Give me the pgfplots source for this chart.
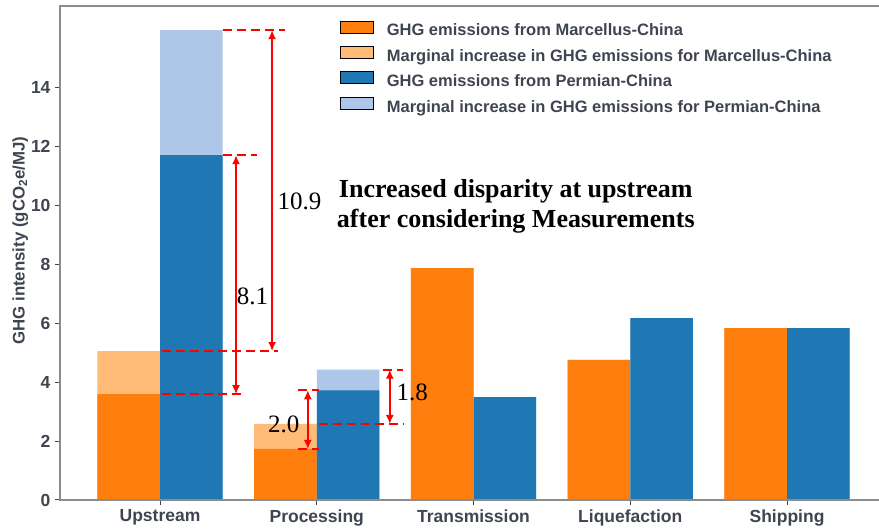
\documentclass[border=0pt]{standalone}
\usepackage{fontspec}
\setmainfont{Liberation Sans}
\newfontfamily\serif{Liberation Serif}
\usepackage{pgfplots}
\usepackage{pgfplotstable}
\pgfplotsset{compat=1.18}
\usetikzlibrary{arrows.meta}

\definecolor{mOrange}{HTML}{FF7F0E}
\definecolor{mOrangeL}{HTML}{FFBB78}
\definecolor{pBlue}{HTML}{1F77B4}
\definecolor{pBlueL}{HTML}{AEC7E8}
\definecolor{txt}{HTML}{3F4451}
\definecolor{spine}{HTML}{8C8C8C}
\definecolor{ann}{HTML}{FF0000}

% base = without measurements, total = after adding the marginal increase
\pgfplotstableread{
x base total
0 3.59 5.05
1 1.73 2.58
2 7.86 7.86
3 4.75 4.75
4 5.83 5.83
}\marcellus
\pgfplotstableread{
x base total
0 11.69 15.93
1 3.72 4.42
2 3.49 3.49
3 6.17 6.17
4 5.83 5.83
}\permian

\tikzset{
  dashref/.style={ann, line width=1.8pt, dash pattern=on 9pt off 5pt},
  gap/.style={ann, line width=1.6pt, {Latex[length=9pt,width=8pt]}-{Latex[length=9pt,width=8pt]}},
  numlab/.style={font=\serif\fontsize{25}{28}\selectfont, text=black, inner sep=0pt},
}

\begin{document}
\begin{tikzpicture}
\begin{axis}[
  name=ax,
  scale only axis, width=819pt, height=494pt,
  xmin=-0.638, xmax=4.587, ymin=0, ymax=16.75,
  clip=false,
  axis line style={draw=none},
  xtick={0,...,4},
  xticklabels={Upstream,Processing,Transmission,Liquefaction,Shipping},
  ytick={0,2,...,14},
  tick pos=left, tick align=outside,
  major tick length=5pt,
  tick style={color=txt, line width=1pt},
  ticklabel style={font=\fontsize{17.5}{20}\selectfont\bfseries, text=txt},
  /pgf/number format/assume math mode=true,
  yticklabel style={xshift=-1pt},
  xticklabel style={yshift=-1pt},
  ylabel={GHG intensity (gCO\textsubscript{2}e/MJ)},
  ylabel style={font=\fontsize{16.8}{20}\selectfont\bfseries, text=txt, at={(ticklabel cs:0.525)}, yshift=-4pt},
  legend style={at={(rel axis cs:0.3385,0.975)}, anchor=north west, draw=none, fill=none,
    font=\fontsize{16.5}{19}\selectfont\bfseries, text=txt,
    row sep=6.5pt, column sep=13pt,
    nodes={inner sep=0pt, text height=12pt, text depth=3.5pt}},
  legend cell align=left,
  legend image code/.code={\fill[#1] (0pt,-1pt) rectangle (33pt,11pt);},
]
% marginal increase drawn as full bars, base emissions on top of them
\addplot[ybar, bar width=0.4, bar shift=-0.2, fill=mOrangeL, draw=none, forget plot] table[x=x, y=total]{\marcellus};
\addplot[ybar, bar width=0.4, bar shift=-0.2, fill=mOrange, draw=none, forget plot] table[x=x, y=base]{\marcellus};
\addplot[ybar, bar width=0.4, bar shift=0.2, fill=pBlueL, draw=none, forget plot] table[x=x, y=total]{\permian};
\addplot[ybar, bar width=0.4, bar shift=0.2, fill=pBlue, draw=none, forget plot] table[x=x, y=base]{\permian};

\addlegendimage{fill=mOrange}
\addlegendentry{GHG emissions from Marcellus-China}
\addlegendimage{fill=mOrangeL}
\addlegendentry{Marginal increase in GHG emissions for Marcellus-China}
\addlegendimage{fill=pBlue}
\addlegendentry{GHG emissions from Permian-China}
\addlegendimage{fill=pBlueL}
\addlegendentry{Marginal increase in GHG emissions for Permian-China}

% spines: left, bottom, top
\draw[spine, line width=1.2pt] (rel axis cs:1,1) -- (rel axis cs:0,1) -- (rel axis cs:0,0) -- (rel axis cs:1,0);

% upstream gaps
\draw[dashref] (axis cs:0.40,15.93) -- (axis cs:0.80,15.93);
\draw[dashref] (axis cs:0.40,11.69) -- (axis cs:0.62,11.69);
\draw[dashref] (axis cs:0.01,5.05) -- (axis cs:0.75,5.05);
\draw[dashref] (axis cs:0.01,3.59) -- (axis cs:0.54,3.59);
\draw[gap] (axis cs:0.715,5.05) -- (axis cs:0.715,15.93);
\draw[gap] (axis cs:0.485,3.59) -- (axis cs:0.485,11.69);
\node[numlab] at (axis cs:0.89,10.12) {10.9};
\node[numlab] at (axis cs:0.59,6.92) {8.1};

% processing gaps
\draw[dashref] (axis cs:0.879,3.72) -- (axis cs:1.013,3.72);
\draw[dashref] (axis cs:0.879,1.73) -- (axis cs:1.013,1.73);
\draw[dashref] (axis cs:1.42,4.42) -- (axis cs:1.55,4.42);
\draw[dashref] (axis cs:1.013,2.58) -- (axis cs:1.55,2.58);
\draw[gap] (axis cs:0.943,1.73) -- (axis cs:0.943,3.72);
\draw[gap] (axis cs:1.466,2.58) -- (axis cs:1.466,4.42);
\node[numlab] at (axis cs:0.79,2.58) {2.0};
\node[numlab] at (axis cs:1.61,3.66) {1.8};

\node[font=\serif\bfseries\fontsize{26}{30}\selectfont, align=center, text=black, inner sep=0pt]
  at (axis cs:2.27,9.95) {Increased disparity at upstream\\after considering Measurements};
\end{axis}
\pgfresetboundingbox
\path[use as bounding box] ([xshift=-60pt,yshift=-29pt]ax.south west) rectangle ([yshift=6pt]ax.north east);
\end{tikzpicture}
\end{document}
